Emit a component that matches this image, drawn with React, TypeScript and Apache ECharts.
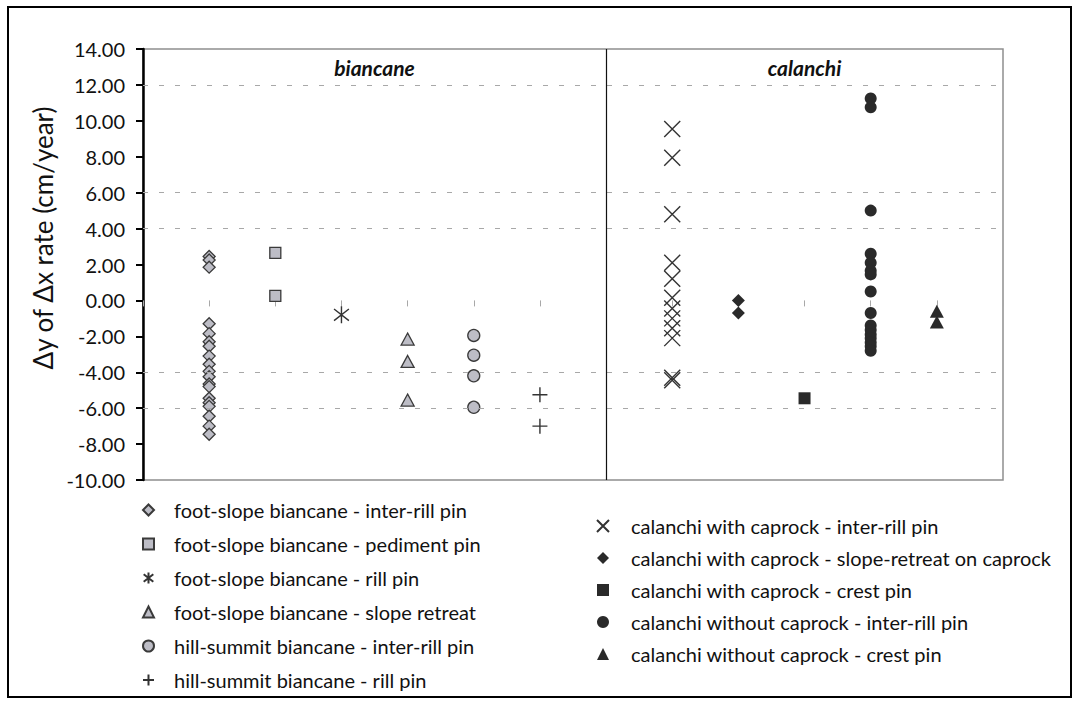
import React, { useEffect, useRef } from "react";
import * as echarts from "echarts";

// Horizontal slot of each group (slot 7 is the biancane / calanchi divider)
const slots = [1, 2, 3, 4, 5, 6, 8, 9, 10, 11, 12];
const dividerSlot = 7;

// Δy / Δx rates, cm/year
const footInterRill = [2.45, 2.25, 1.85, -1.3, -1.85, -2.3, -2.55, -3.1, -3.55, -3.95, -4.25, -4.65, -4.8, -5.45, -5.7, -5.9, -6.45, -7.0, -7.45];
const footPediment = [2.65, 0.25];
const footRill = [-0.8];
const footSlopeRetreat = [-2.15, -3.4, -5.55];
const hillInterRill = [-1.95, -3.05, -4.2, -5.95];
const hillRill = [-5.25, -7.0];
const capInterRill = [9.55, 7.95, 4.8, 2.1, 1.2, 0.15, -0.45, -1.0, -1.55, -2.1, -4.3, -4.45];
const capSlopeRetreat = [0.0, -0.7];
const capCrest = [-5.45];
const noCapInterRill = [11.25, 10.75, 5.0, 2.6, 2.1, 1.65, 1.45, 0.5, -0.7, -1.4, -1.65, -1.9, -2.1, -2.35, -2.55, -2.8];
const noCapCrest = [-0.6, -1.2];

const seriesNames = [
  "foot-slope biancane - inter-rill pin",
  "foot-slope biancane - pediment pin",
  "foot-slope biancane - rill pin",
  "foot-slope biancane - slope retreat",
  "hill-summit biancane - inter-rill pin",
  "hill-summit biancane - rill pin",
  "calanchi with caprock - inter-rill pin",
  "calanchi with caprock - slope-retreat on caprock",
  "calanchi with caprock - crest pin",
  "calanchi without caprock - inter-rill pin",
  "calanchi without caprock - crest pin",
];
const seriesValues = [
  footInterRill, footPediment, footRill, footSlopeRetreat, hillInterRill, hillRill,
  capInterRill, capSlopeRetreat, capCrest, noCapInterRill, noCapCrest,
];

const yMin = -10;
const yMax = 14;
const yStep = 2;
const refLevels = [12, 6, 4, -4, -6];
const groupTitles = ["biancane", "calanchi"];
const yTitle = "Δy of Δx rate (cm/year)";

const FONT = "Lato";

const STAR = "path://M8 0L8 16M1 2.5L15 13.5M15 2.5L1 13.5";
const CROSS = "path://M0 0L16 16M16 0L0 16";
const PLUS = "path://M8 0L8 16M0 8L16 8";

const grey = { color: "#bdbdc6", borderColor: "#3a3a3a", borderWidth: 1.3, opacity: 1 };
const black = { color: "#2a2a2a", opacity: 1 };
const stroke = { color: "transparent", borderColor: "#333333", borderWidth: 1.4, opacity: 1 };

const markers: { symbol: string; size: number | number[]; style: any }[] = [
  { symbol: "diamond", size: [12, 12], style: grey },
  { symbol: "rect", size: 11, style: grey },
  { symbol: STAR, size: 17, style: stroke },
  { symbol: "triangle", size: [13, 12], style: grey },
  { symbol: "circle", size: 12, style: grey },
  { symbol: PLUS, size: 15, style: stroke },
  { symbol: CROSS, size: 16, style: stroke },
  { symbol: "diamond", size: [13, 13], style: black },
  { symbol: "rect", size: 12, style: black },
  { symbol: "circle", size: 12, style: black },
  { symbol: "triangle", size: [14, 13], style: black },
];

// grid edges, px
const G = { left: 143, right: 1003, top: 49, bottom: 480 };

function buildOption(): any {
  const series: any[] = [
    {
      type: "scatter",
      name: "_ref",
      data: [],
      z: 1,
      silent: true,
      markLine: {
        silent: true,
        symbol: "none",
        animation: false,
        label: { show: false },
        lineStyle: { color: "#a8a8a8", width: 1, type: [5, 11] },
        data: [
          ...refLevels.map((v) => ({ yAxis: v })),
          { xAxis: dividerSlot, lineStyle: { color: "#111", width: 1.2, type: "solid" } },
        ],
      },
    },
  ];
  seriesNames.forEach((name, i) => {
    const m = markers[i];
    series.push({
      type: "scatter",
      name,
      z: 3,
      symbol: m.symbol,
      symbolSize: m.size,
      symbolKeepAspect: true,
      itemStyle: m.style,
      data: seriesValues[i].map((v) => [slots[i], v]),
    });
  });

  const legendText = { fontFamily: FONT, fontSize: 20, color: "#111", lineHeight: 20 };

  return {
    animation: false,
    backgroundColor: "#ffffff",
    grid: {
      left: G.left,
      top: G.top,
      width: G.right - G.left,
      height: G.bottom - G.top,
      show: true,
      borderColor: "#8f8f8f",
      borderWidth: 1.5,
    },
    xAxis: {
      type: "value",
      min: 0,
      max: 13,
      interval: 1,
      axisLine: { show: false, onZero: true },
      axisTick: { show: true, length: 6, lineStyle: { color: "#a8a8a8", width: 1 } },
      axisLabel: { show: false },
      splitLine: { show: false },
    },
    yAxis: {
      type: "value",
      min: yMin,
      max: yMax,
      interval: yStep,
      axisLine: { show: true, lineStyle: { color: "#000", width: 2.5 } },
      axisTick: { show: true, length: 7, lineStyle: { color: "#000", width: 2 } },
      axisLabel: {
        margin: 18,
        fontFamily: FONT,
        fontSize: 20,
        color: "#111",
        formatter: (v: number) => v.toFixed(2),
      },
      splitLine: { show: false },
    },
    legend: [
      {
        data: seriesNames.slice(0, 6),
        orient: "vertical",
        left: 137,
        top: 495,
        itemWidth: 11,
        itemHeight: 11,
        itemGap: 14,
        selectedMode: false,
        textStyle: { ...legendText, padding: [0, 0, 0, 15] },
      },
      {
        data: seriesNames.slice(6),
        orient: "vertical",
        left: 591,
        top: 511,
        itemWidth: 12,
        itemHeight: 12,
        itemGap: 12,
        selectedMode: false,
        textStyle: { ...legendText, padding: [0, 0, 0, 17] },
      },
    ],
    graphic: [
      {
        type: "rect",
        silent: true,
        shape: { x: 8, y: 7, width: 1063, height: 690 },
        style: { fill: "none", stroke: "#000", lineWidth: 2 },
      },
      {
        type: "text",
        x: 43,
        y: 238,
        rotation: Math.PI / 2,
        style: {
          text: yTitle,
          fontFamily: FONT,
          fontSize: 26,
          fill: "#111",
          align: "center",
          verticalAlign: "middle",
        },
      },
      ...groupTitles.map((t, i) => ({
        type: "text",
        x: i === 0 ? (G.left + 606) / 2 : (606 + G.right) / 2,
        y: 67,
        style: {
          text: t,
          fontFamily: FONT,
          fontSize: 21,
          fontWeight: "bold",
          fontStyle: "italic",
          fill: "#111",
          align: "center",
          verticalAlign: "middle",
        },
      })),
    ],
    series,
  };
}

export default function App() {
  const ref = useRef<HTMLDivElement>(null);
  useEffect(() => {
    const chart = echarts.init(ref.current!, null, { renderer: "svg" });
    chart.setOption(buildOption());
    return () => chart.dispose();
  }, []);
  return (
    <div
      ref={ref}
      style={{ position: "fixed", left: 0, top: 0, width: 1078, height: 704, background: "#fff" }}
    />
  );
}
